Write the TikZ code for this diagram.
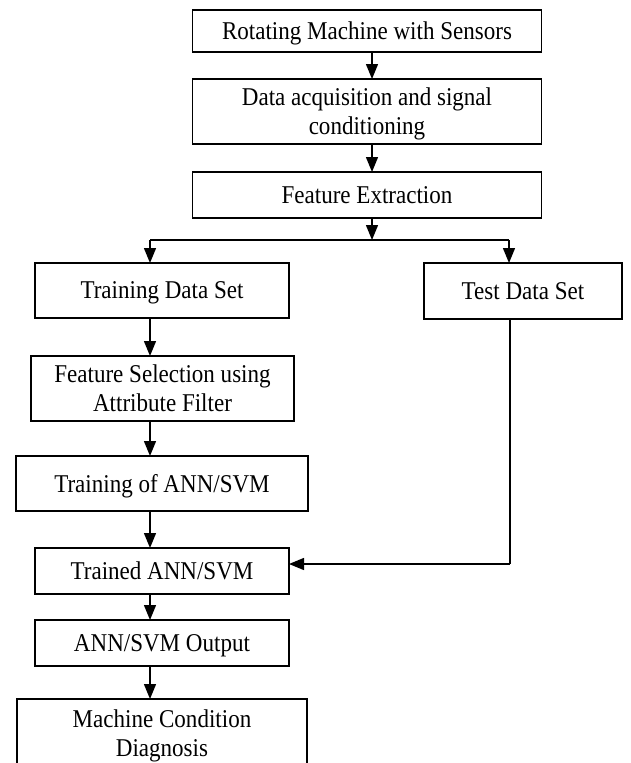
\documentclass[tikz,border=0pt]{standalone}
\usepackage{fontspec}
\setmainfont[FakeStretch=0.9]{Liberation Serif}
\usetikzlibrary{arrows.meta,positioning}

\tikzset{blk/.style={draw,align=center,inner sep=0pt,outer sep=0pt,text depth=0pt,
                     font=\fontsize{25.6}{29}\selectfont}}

\begin{document}
\begin{tikzpicture}[x=1pt,y=-1pt,->,>={Triangle[length=15pt,width=12pt]},
                    line width=1.4pt]
  \useasboundingbox (0,0) rectangle (630,763);
  \clip (0,0) rectangle (630,763);

  % main chain
  \node[blk,minimum width=349,minimum height=42] (rot)  at (367,31)    {Rotating Machine with Sensors};
  \node[blk,minimum width=349,minimum height=65] (daq)  at (367,111.5) {Data acquisition and signal\\conditioning};
  \node[blk,minimum width=349,minimum height=46] (feat) at (367,195)   {Feature Extraction};

  % the two data sets
  \node[blk,minimum width=254,minimum height=55] (train) at (162,290.5) {Training Data Set};
  \node[blk,minimum width=198,minimum height=56] (test)  at (523,291)   {Test Data Set};

  % left column
  \node[blk,minimum width=263,minimum height=65] (fsel)    at (162.5,388.5) {Feature Selection using\\Attribute Filter};
  \node[blk,minimum width=292,minimum height=55] (tann)    at (162,483.5)   {Training of ANN/SVM};
  \node[blk,minimum width=254,minimum height=46] (trained) at (162,571)     {Trained ANN/SVM};
  \node[blk,minimum width=254,minimum height=46] (out)     at (162,643)     {ANN/SVM Output};
  \node[blk,minimum width=290,minimum height=68] (diag)    at (162,733)     {Machine Condition\\Diagnosis};

  \coordinate (split)  at (372,240);
  \coordinate (lsplit) at (150,240);
  \coordinate (rsplit) at (509,240);
  \coordinate (tjoin)  at (510,564);

  \draw (rot.south -| split) -- (daq.north -| split);
  \draw (daq.south -| split) -- (feat.north -| split);
  \draw (feat.south -| split) -- (split);
  \draw[-] (lsplit) -- (rsplit);
  \draw (lsplit) -- (lsplit |- train.north);
  \draw (rsplit) -- (rsplit |- test.north);

  \draw (train.south -| lsplit) -- (fsel.north -| lsplit);
  \draw (fsel.south -| lsplit) -- (tann.north -| lsplit);
  \draw (tann.south -| lsplit) -- (trained.north -| lsplit);
  \draw (trained.south -| lsplit) -- (out.north -| lsplit);
  \draw (out.south -| lsplit) -- (diag.north -| lsplit);

  \draw[-] (test.south -| tjoin) -- (tjoin);
  \draw (tjoin) -- (tjoin -| trained.east);
\end{tikzpicture}
\end{document}
